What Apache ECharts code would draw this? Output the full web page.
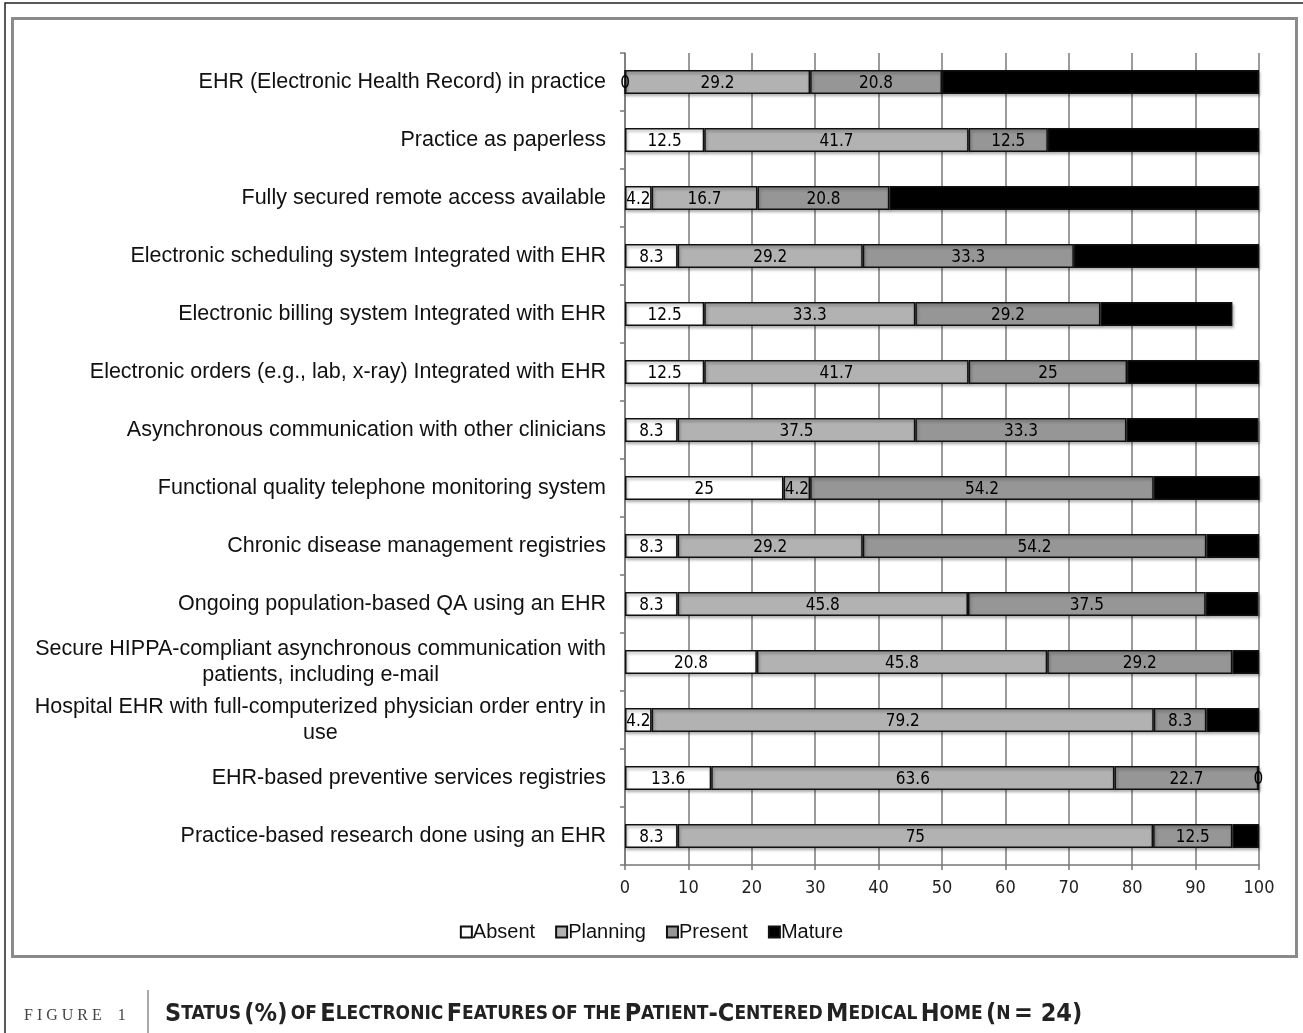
<!DOCTYPE html>
<html>
<head>
<meta charset="utf-8">
<script src="https://cdn.jsdelivr.net/npm/echarts@6/dist/echarts.min.js"></script>
<style>
  html, body { margin: 0; padding: 0; background: #fff; }
  #chart { width: 1303px; height: 1033px; }
</style>
</head>
<body>
<div id="chart"></div>
<script>
// Electronic features of the patient-centered medical home, % of practices (n = 24)
const features = [
  'EHR (Electronic Health Record) in practice',
  'Practice as paperless',
  'Fully secured remote access available',
  'Electronic scheduling system Integrated with EHR',
  'Electronic billing system Integrated with EHR',
  'Electronic orders (e.g., lab, x-ray) Integrated with EHR',
  'Asynchronous communication with other clinicians',
  'Functional quality telephone monitoring system',
  'Chronic disease management registries',
  'Ongoing population-based QA using an EHR',
  'Secure HIPPA-compliant asynchronous communication with\npatients, including e-mail',
  'Hospital EHR with full-computerized physician order entry in\nuse',
  'EHR-based preventive services registries',
  'Practice-based research done using an EHR'
];
const absent   = [0, 12.5, 4.2, 8.3, 12.5, 12.5, 8.3, 25, 8.3, 8.3, 20.8, 4.2, 13.6, 8.3];
const planning = [29.2, 41.7, 16.7, 29.2, 33.3, 41.7, 37.5, 4.2, 29.2, 45.8, 45.8, 79.2, 63.6, 75];
const present  = [20.8, 12.5, 20.8, 33.3, 29.2, 25, 33.3, 54.2, 54.2, 37.5, 29.2, 8.3, 22.7, 12.5];
const mature   = [50, 33.3, 58.3, 29.2, 20.8, 20.8, 20.8, 16.7, 8.3, 8.3, 4.2, 8.3, 0, 4.2];
const statusNames = ['Absent', 'Planning', 'Present', 'Mature'];
const xTicks = { min: 0, max: 100, step: 10 };

const narrow = '"Liberation Sans Narrow", "DejaVu Sans Condensed", "Liberation Sans", sans-serif';
const arial = '"Liberation Sans", Arial, sans-serif';
const fills = ['#ffffff', '#b2b2b2', '#969696', '#000000'];

function makeSeries(name, values, fill) {
  return {
    name: name,
    type: 'bar',
    stack: 'status',
    data: values,
    barWidth: 24,
    itemStyle: {
      color: fill,
      borderColor: '#111',
      borderWidth: 1.5,
      shadowColor: 'rgba(0,0,0,0.35)',
      shadowBlur: 3,
      shadowOffsetX: 1,
      shadowOffsetY: 2
    },
    label: {
      show: true,
      position: 'inside',
      color: '#000',
      fontFamily: narrow,
      fontSize: 17,
      offset: [0, 2]
    }
  };
}

const chart = echarts.init(document.getElementById('chart'), null, { renderer: 'canvas' });
chart.setOption({
  backgroundColor: '#fff',
  animation: false,
  grid: { left: 625, right: 44, top: 53, bottom: 168, containLabel: false },
  legend: {
    data: statusNames,
    top: 917,
    left: 'center',
    icon: 'rect',
    itemWidth: 11,
    itemHeight: 11,
    itemGap: 20,
    textStyle: { fontFamily: arial, fontSize: 20, color: '#111', padding: [0, 0, 0, -4] }
  },
  xAxis: {
    type: 'value',
    min: xTicks.min,
    max: xTicks.max,
    interval: xTicks.step,
    axisLine: { show: true, lineStyle: { color: '#777', width: 1.5 } },
    axisTick: { show: true, length: 5, lineStyle: { color: '#777', width: 1.5 } },
    axisLabel: { fontFamily: narrow, fontSize: 18, color: '#222', margin: 14 },
    splitLine: { show: true, lineStyle: { color: '#7a7a7a', width: 1.5 } }
  },
  yAxis: {
    type: 'category',
    data: features,
    inverse: true,
    axisLine: { show: true, lineStyle: { color: '#777', width: 1.5 } },
    axisTick: { show: true, length: 5, lineStyle: { color: '#777', width: 1.5 } },
    axisLabel: {
      margin: 19,
      formatter: function (v) {
        return v.split('\n').map(function (line) { return '{c|' + line + '}'; }).join('\n');
      },
      rich: {
        c: {
          align: 'center',
          fontFamily: arial,
          fontSize: 21.5,
          color: '#111',
          lineHeight: 26
        }
      }
    }
  },
  series: [
    makeSeries(statusNames[0], absent, fills[0]),
    makeSeries(statusNames[1], planning, fills[1]),
    makeSeries(statusNames[2], present, fills[2]),
    makeSeries(statusNames[3], mature, fills[3])
  ],
  graphic: [
    { type: 'rect', shape: { x: 5, y: 3, width: 1310, height: 1040 }, style: { fill: 'none', stroke: '#222', lineWidth: 1.5 }, silent: true },
    { type: 'rect', shape: { x: 12.5, y: 18.5, width: 1284, height: 938 }, style: { fill: 'none', stroke: '#8a8a8a', lineWidth: 3 }, silent: true },
    { type: 'line', shape: { x1: 148, y1: 990, x2: 148, y2: 1033 }, style: { stroke: '#555', lineWidth: 1 }, silent: true },
    {
      type: 'text', left: 24, top: 1008,
      style: { text: 'F I G U R E    1', fontFamily: '"Liberation Serif", "DejaVu Serif", serif', fontSize: 16, fill: '#444' }
    },
    {
      type: 'text', left: 165, top: 1002,
      style: {
        text: '{b|S}{s|TATUS} {b|(%)} {s|OF} {b|E}{s|LECTRONIC} {b|F}{s|EATURES} {s|OF THE} {b|P}{s|ATIENT}{b|-C}{s|ENTERED} {b|M}{s|EDICAL} {b|H}{s|OME} {b|(}{s|N} {b|= 24)}',
        rich: {
          b: { fontFamily: narrow, fontWeight: 'bold', fontSize: 25, fill: '#222' },
          s: { fontFamily: narrow, fontWeight: 'bold', fontSize: 19, fill: '#222' }
        }
      }
    }
  ]
});
</script>
</body>
</html>
